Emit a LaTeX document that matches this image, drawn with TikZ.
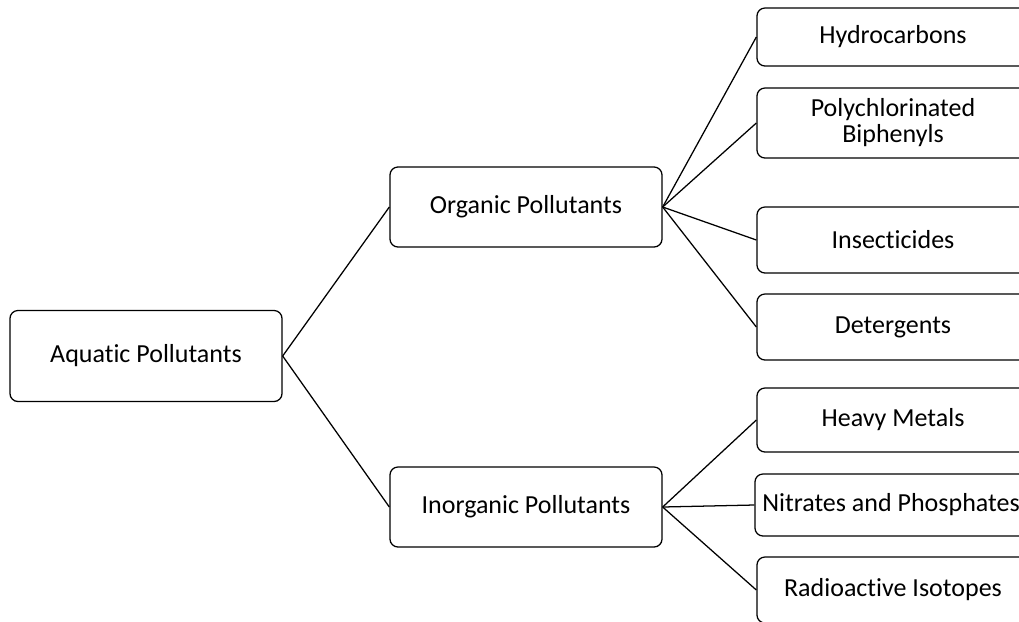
\documentclass[tikz,border=0pt]{standalone}
\usepackage{fontspec}
\setmainfont{Carlito}[Ligatures={NoCommon}]
\usepackage{tikz}
\usetikzlibrary{positioning}

\begin{document}
\begin{tikzpicture}[x=0.025cm, y=-0.025cm,
    box/.style={draw, rounded corners=0.2cm, line width=0.9pt, minimum width=6.8cm,
        inner xsep=0pt, align=center, font=\fontsize{18.5}{18.5}\selectfont},
    link/.style={line width=0.9pt}]
% Frame (boxes on the right run off the edge)
\clip (0,0) rectangle (1019,621);

% Root
\node[box, minimum height=2.275cm] (aquatic) at (146,356) {Aquatic Pollutants};

% Middle level
\node[box, minimum height=2cm] (organic) at (526,207) {Organic Pollutants};
\node[box, minimum height=2cm] (inorganic) at (526,507) {Inorganic Pollutants};

% Organic leaves
\node[box, minimum height=1.45cm] (hydro) at (893,37) {Hydrocarbons};
\node[box, minimum height=1.75cm] (pcb) at (893,123) {Polychlorinated\\Biphenyls};
\node[box, minimum height=1.65cm] (insect) at (893,240) {Insecticides};
\node[box, minimum height=1.65cm] (deterg) at (893,327) {Detergents};

% Inorganic leaves
\node[box, minimum height=1.6cm] (metals) at (893,420) {Heavy Metals};
\node[box, minimum height=1.55cm] (nitrates) at (891,505) {Nitrates and Phosphates};
\node[box, minimum height=1.65cm] (radio) at (893,590) {Radioactive Isotopes};

% Connectors
\draw[link] (aquatic.east) -- (organic.west);
\draw[link] (aquatic.east) -- (inorganic.west);
\foreach \leaf in {hydro, pcb, insect, deterg} {
    \draw[link] (organic.east) -- (\leaf.west);
}
\foreach \leaf in {metals, nitrates, radio} {
    \draw[link] (inorganic.east) -- (\leaf.west);
}
\end{tikzpicture}
\end{document}
